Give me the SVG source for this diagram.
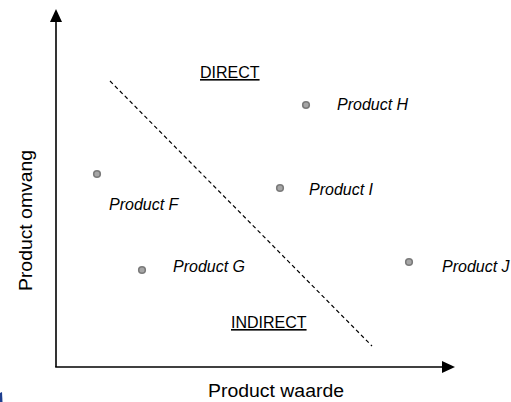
<svg xmlns="http://www.w3.org/2000/svg" width="511" height="402" viewBox="0 0 511 402">
<style>
.ax{stroke:#000;stroke-width:1.6;fill:none}
.dot{fill:#a6a6a6;stroke:#7a7a7a;stroke-width:1.6}
.lbl{font-family:"Liberation Sans",Arial,sans-serif;font-style:italic;font-size:16px;fill:#000}
.reg{font-family:"Liberation Sans",Arial,sans-serif;font-size:16px;fill:#000;text-decoration:underline}
.axl{font-family:"Liberation Sans",Arial,sans-serif;font-size:17.5px;fill:#000}
</style>
<rect width="511" height="402" fill="#fff"/>
<g id="axes">
<line class="ax" x1="56" y1="20" x2="56" y2="367"/>
<line class="ax" x1="55.2" y1="367" x2="443" y2="367"/>
<polygon points="56,9 50,22 62,22" fill="#000"/>
<polygon points="455,367 442,361 442,373" fill="#000"/>
</g>
<g id="connectors">
<line x1="110" y1="81" x2="372" y2="346" stroke="#000" stroke-width="1.2" stroke-dasharray="4,3"/>
</g>
<g id="regions">
<text class="reg" x="200" y="78">DIRECT</text>
<text class="reg" x="231" y="328">INDIRECT</text>
</g>
<g id="productF"><circle class="dot" cx="97" cy="174" r="3.3"/><text class="lbl" x="109" y="210">Product F</text></g>
<g id="productG"><circle class="dot" cx="142" cy="270" r="3.3"/><text class="lbl" x="173" y="272">Product G</text></g>
<g id="productH"><circle class="dot" cx="306" cy="105" r="3.3"/><text class="lbl" x="337" y="110">Product H</text></g>
<g id="productI"><circle class="dot" cx="280" cy="188" r="3.3"/><text class="lbl" x="309" y="195">Product I</text></g>
<g id="productJ"><circle class="dot" cx="409" cy="262" r="3.3"/><text class="lbl" x="442" y="272">Product J</text></g>
<g id="axis-labels">
<text class="axl" x="208" y="397" textLength="136" lengthAdjust="spacingAndGlyphs">Product waarde</text>
<text class="axl" transform="translate(32,291) rotate(-90)" x="0" y="0" textLength="141" lengthAdjust="spacingAndGlyphs">Product omvang</text>
</g>
<path d="M0,393 L2,392 L2.5,402 L0,402 Z" fill="#1f3f8f"/>
</svg>
